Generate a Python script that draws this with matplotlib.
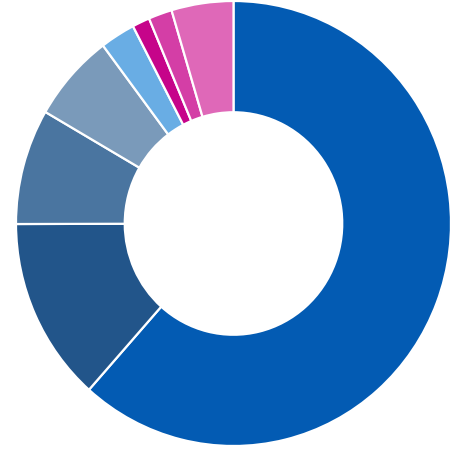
import matplotlib
matplotlib.use("Agg")
import matplotlib.pyplot as plt

labels = ["A", "B", "C", "D", "E", "F", "G", "H"]
values = [61.6, 13.4, 8.4, 6.4, 2.6, 1.3, 1.75, 4.6]
colors = ["#035bb3", "#22558a", "#4a75a0", "#7a9aba", "#69ade4", "#c6048a", "#d43ea6", "#df68b8"]

fig = plt.figure(figsize=(4.6, 4.6), dpi=100)
left, right, top, bottom = 16, 451, 2, 447
ax = fig.add_axes([left / 460, (460 - bottom) / 460, (right - left) / 460, (bottom - top) / 460])
ax.pie(values, colors=colors, startangle=90, counterclock=False, radius=1.0,
       wedgeprops=dict(width=0.5, edgecolor="white", linewidth=1.6))
ax.set_xlim(-1, 1)
ax.set_ylim(-1, 1)
ax.set_aspect("auto")
ax.axis("off")
fig.savefig("out.png", dpi=100, facecolor="white")
